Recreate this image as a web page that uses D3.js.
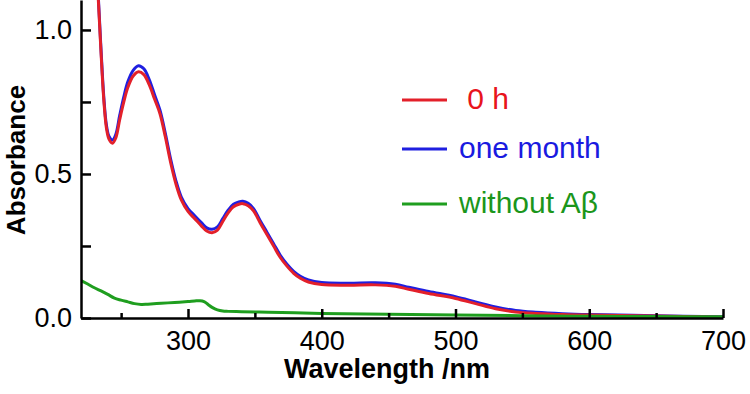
<!DOCTYPE html>
<html>
<head>
<meta charset="utf-8">
<script src="https://cdn.jsdelivr.net/npm/d3@7/dist/d3.min.js"></script>
<style>
  body { margin: 0; background: #fff; }
  svg { display: block; font-family: "Liberation Sans", Arial, sans-serif; }
</style>
</head>
<body>
<div id="chart"></div>
<script>
var w = 750, h = 394;

// wavelengths (nm) shared by the two sample spectra
var wavelengths = [230, 233, 235, 237, 239, 241, 243.5, 246, 249, 252, 255, 259, 263, 267, 271, 275, 279, 283, 287, 291, 295, 300, 305, 310, 314, 318, 322, 326, 330, 334, 338, 341, 345, 349, 354, 359, 364, 369, 374, 379, 384, 390, 400, 420, 440, 455, 465, 480, 500, 515, 530, 545, 560, 580, 600, 650, 700];
var zeroHour = [1.35, 1.10, 0.92, 0.76, 0.66, 0.62, 0.607, 0.625, 0.69, 0.75, 0.80, 0.84, 0.855, 0.845, 0.81, 0.76, 0.71, 0.63, 0.54, 0.465, 0.41, 0.37, 0.345, 0.32, 0.302, 0.296, 0.305, 0.335, 0.365, 0.386, 0.395, 0.397, 0.39, 0.372, 0.33, 0.29, 0.25, 0.21, 0.18, 0.155, 0.138, 0.125, 0.116, 0.114, 0.115, 0.110, 0.100, 0.085, 0.068, 0.050, 0.032, 0.021, 0.016, 0.012, 0.010, 0.007, 0.003];
var oneMonth = [1.36, 1.11, 0.93, 0.77, 0.67, 0.63, 0.618, 0.637, 0.705, 0.768, 0.82, 0.86, 0.876, 0.865, 0.828, 0.775, 0.722, 0.642, 0.552, 0.476, 0.42, 0.38, 0.355, 0.331, 0.313, 0.308, 0.316, 0.345, 0.374, 0.395, 0.403, 0.405, 0.398, 0.38, 0.338, 0.298, 0.258, 0.218, 0.187, 0.162, 0.145, 0.132, 0.123, 0.121, 0.122, 0.117, 0.107, 0.092, 0.074, 0.056, 0.038, 0.026, 0.020, 0.015, 0.012, 0.008, 0.004];

// control without A-beta
var ctrlWavelengths = [220, 225, 230, 235, 240, 245, 250, 255, 260, 265, 270, 280, 290, 300, 305, 309, 312, 315, 318, 322, 326, 330, 340, 360, 380, 400, 450, 500, 550, 600, 650, 700];
var withoutAb = [0.13, 0.118, 0.105, 0.094, 0.082, 0.069, 0.062, 0.056, 0.050, 0.047, 0.048, 0.051, 0.054, 0.057, 0.059, 0.060, 0.057, 0.047, 0.037, 0.028, 0.024, 0.023, 0.022, 0.020, 0.018, 0.016, 0.013, 0.010, 0.008, 0.006, 0.005, 0.004];

var xMajor = [300, 400, 500, 600, 700];
var xMinor = [250, 350, 450, 550, 650];
var yTicks = [0, 0.25, 0.5, 0.75, 1.0];
var yLabels = [0, 0.5, 1.0];

var series = [
  {name: "one month", x: wavelengths, y: oneMonth, color: "#1f1fe0"},
  {name: " 0 h", x: wavelengths, y: zeroHour, color: "#e3202a"},
  {name: "without A\u03b2", x: ctrlWavelengths, y: withoutAb, color: "#1f9e1f"}
];
var legendOrder = [
  {name: "\u00a00 h", color: "#e3202a", text: "#e8141c"},
  {name: "one month", color: "#1f1fe0", text: "#1a1ae0"},
  {name: "without A\u03b2", color: "#1f9e1f", text: "#1b961b"}
];

var x = d3.scaleLinear().domain([220, 700]).range([81, 723]);
var y = d3.scaleLinear().domain([0, 1.104]).range([318, 0]);

var svg = d3.select("#chart").append("svg")
    .attr("width", w)
    .attr("height", h);

svg.append("clipPath").attr("id", "plot")
  .append("rect").attr("x", 81).attr("y", 0).attr("width", 660).attr("height", 320);

var line = d3.line()
    .x(function(d){ return x(d[0]); })
    .y(function(d){ return y(d[1]); })
    .curve(d3.curveCatmullRom.alpha(0.5));

svg.append("g").attr("clip-path", "url(#plot)")
  .selectAll("path")
  .data(series)
  .enter().append("path")
    .attr("d", function(s){ return line(d3.zip(s.x, s.y)); })
    .attr("fill", "none")
    .attr("stroke", function(s){ return s.color; })
    .attr("stroke-width", 3)
    .attr("stroke-linejoin", "round");

// x axis
svg.append("g").attr("transform", "translate(0,318)")
    .call(d3.axisBottom(x).tickValues(xMajor).tickSizeInner(-9).tickSizeOuter(0).tickPadding(13).tickFormat(d3.format("d")));
svg.append("g").attr("transform", "translate(0,318)")
    .call(d3.axisBottom(x).tickValues(xMinor).tickSizeInner(-5).tickSizeOuter(0).tickFormat(""))
    .select(".domain").remove();

// y axis
svg.append("g").attr("transform", "translate(81,0)")
    .call(d3.axisLeft(y).tickValues(yTicks).tickSizeInner(-10).tickSizeOuter(0).tickPadding(9)
      .tickFormat(function(d){ return yLabels.indexOf(d) >= 0 ? d3.format(".1f")(d) : ""; }));

svg.selectAll(".domain, .tick line")
    .attr("stroke", "#000")
    .attr("stroke-width", 2.5);
svg.selectAll(".tick text")
    .attr("fill", "#000")
    .style("font-size", "27px")
    .style("font-family", "'Liberation Sans', Arial, sans-serif");

// axis titles
svg.append("text")
    .attr("x", 387).attr("y", 378)
    .attr("text-anchor", "middle")
    .style("font-size", "27px").style("font-weight", "bold")
    .text("Wavelength /nm");

svg.append("text")
    .attr("transform", "translate(25,160) rotate(-90)")
    .attr("text-anchor", "middle")
    .style("font-size", "26px").style("font-weight", "bold")
    .text("Absorbance");

// legend
var legend = svg.append("g").selectAll("g")
    .data(legendOrder)
    .enter().append("g")
    .attr("transform", function(d, i){ return "translate(402," + [100, 149, 204][i] + ")"; });

legend.append("line")
    .attr("x1", 0).attr("x2", 45)
    .attr("stroke", function(d){ return d.color; })
    .attr("stroke-width", 3);

legend.append("text")
    .attr("x", 57).attr("y", 9)
    .attr("fill", function(d){ return d.text; })
    .style("font-size", "30px")
    .text(function(d){ return d.name; });
</script>
</body>
</html>
